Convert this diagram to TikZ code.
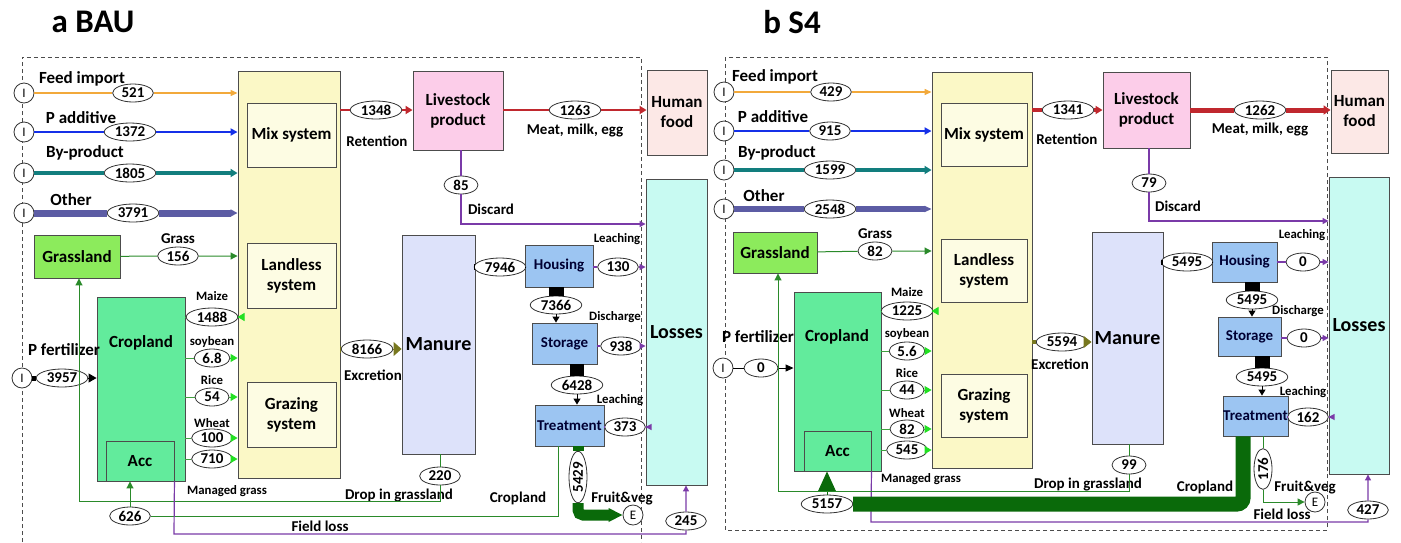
\documentclass[tikz,border=0pt]{standalone}
\usepackage{fontspec}
\setmainfont{Carlito}
\usetikzlibrary{shapes.geometric,arrows.meta}

\newcommand{\ttlfont}{\fontsize{33}{36}\selectfont\bfseries}
\newcommand{\boxfont}{\fontsize{17}{20}\selectfont\bfseries}
\newcommand{\bigfont}{\fontsize{20}{22}\selectfont\bfseries}
\newcommand{\midfont}{\fontsize{15}{17}\selectfont\bfseries}
\newcommand{\smlfont}{\fontsize{12.8}{14}\selectfont\bfseries}
\newcommand{\valfont}{\fontsize{15}{16}\selectfont\bfseries}
\newcommand{\srcfont}{\fontsize{13}{14}\selectfont}

\definecolor{ylwbox}{HTML}{FBF8C6}
\definecolor{ylwin}{HTML}{FDFCE3}
\definecolor{grassbox}{HTML}{8CEB5C}
\definecolor{cropbox}{HTML}{62EB9C}
\definecolor{livbox}{HTML}{FCCDE9}
\definecolor{humbox}{HTML}{FCE8E6}
\definecolor{lossbox}{HTML}{C8FAF2}
\definecolor{manbox}{HTML}{DDE2FA}
\definecolor{procbox}{HTML}{9CC5F2}
\definecolor{feedln}{HTML}{F2A93B}
\definecolor{addln}{HTML}{1530E8}
\definecolor{byln}{HTML}{127E7E}
\definecolor{othln}{HTML}{5C5CA4}
\definecolor{grassln}{HTML}{2A8A2A}
\definecolor{cropln}{HTML}{3EA03E}
\definecolor{croptip}{HTML}{22E022}
\definecolor{redln}{HTML}{C0282E}
\definecolor{purln}{HTML}{7A3AA8}
\definecolor{olvln}{HTML}{77771E}
\definecolor{dkgrn}{HTML}{0A6A0A}

\begin{document}
\begin{tikzpicture}[x=1pt, y=-1pt]
	\tikzstyle{every node}=[inner sep=1pt, align=center, font=\midfont]
	\tikzstyle{box}=[draw=black!70, line width=0.9pt, inner sep=0pt, font=\boxfont]
	\tikzstyle{proc}=[box, fill=procbox, font=\midfont, text=blue!20!black]
	\tikzstyle{val}=[ellipse, draw=black!80, line width=0.8pt, fill=white, inner xsep=3pt, inner ysep=0pt, minimum width=34pt, minimum height=18pt, font=\valfont]
	\tikzstyle{src}=[circle, draw=black!80, line width=0.8pt, fill=white, minimum size=20pt, inner sep=0pt, font=\srcfont]
	\tikzstyle{srclbl}=[font=\boxfont]
	\tikzstyle{sml}=[font=\smlfont]
	\tikzstyle{panelframe}=[draw=black!70, line width=1pt, dash pattern=on 4pt off 3pt]
	\tikzstyle{tip}=[-{Triangle[length=7pt,width=7pt]}]
	\tikzstyle{ptip}=[-{Triangle[length=6pt,width=6pt]}]
	\tikzstyle{ctip}=[-{Triangle[length=7pt,width=8pt,color=croptip]}]
	\useasboundingbox (0,0) rectangle (1401,542);

	\node (tA) at (93,22) [font=\ttlfont] {a BAU};
	\node (tB) at (792,22) [font=\ttlfont] {b S4};
	\draw[panelframe] (22,542) -- (22,57) -- (641,57) -- (641,542);
	\draw[panelframe] (725,57) rectangle (1327,530);

	\node (ybA) [box, fill=ylwbox, minimum width=102pt, minimum height=407pt] at (289,274.5) {};
	\node (mixA) [box, fill=ylwin, minimum width=89pt, minimum height=64pt] at (291.5,135) {Mix system};
	\node (landA) [box, fill=ylwin, minimum width=89pt, minimum height=65pt] at (291.5,275.5) {Landless\\system};
	\node (grazA) [box, fill=ylwin, minimum width=89pt, minimum height=65pt] at (291.5,414.5) {Grazing\\system};
	\node (grassA) [box, fill=grassbox, minimum width=86pt, minimum height=43pt] at (77,256.5) {Grassland};
	\node (cropA) [box, fill=cropbox, minimum width=88pt, minimum height=184pt] at (141,389) {};
	\node (cropAt) at (141,343) [font=\boxfont] {Cropland};
	\node (accA) [box, fill=cropbox, minimum width=68pt, minimum height=40pt] at (140,461) {Acc};
	\node (livA) [box, fill=livbox, minimum width=90pt, minimum height=79pt] at (458,110.5) {Livestock\\product};
	\node (humA) [box, fill=humbox, minimum width=60pt, minimum height=85pt] at (677,112.5) {Human\\food};
	\node (lossA) [box, fill=lossbox, minimum width=61pt, minimum height=306pt, font=\bigfont] at (676.5,332) {Losses};
	\node (manA) [box, fill=manbox, minimum width=73pt, minimum height=219pt, font=\bigfont] at (438.5,344.5) {Manure};
	\node (housA) [proc, minimum width=68pt, minimum height=42pt] at (559,266) {Housing};
	\node (storA) [proc, minimum width=65pt, minimum height=41pt] at (564.5,343.5) {Storage};
	\node (treatA) [proc, minimum width=69pt, minimum height=41pt] at (569.5,425.5) {Treatment};

	\node (iA1) [src] at (24,93) {I};
	\node (iA2) [src] at (24,132) {I};
	\node (iA3) [src] at (24,173) {I};
	\node (iA4) [src] at (24,213) {I};
	\node (iA5) [src] at (22,378) {I};
	\node (eA) [src] at (633,515) {E};
	\node (vA1) [val] at (133,93) {521};
	\node (vA2) [val] at (130,132) {1372};
	\node (vA3) [val] at (130,173) {1805};
	\node (vA4) [val] at (133,213) {3791};
	\node (vA5) [val] at (178,256) {156};
	\node (vA6) [val] at (62,378) {3957};
	\node (vA7) [val] at (212,317) {1488};
	\node (vA8) [val] at (212,358) {6.8};
	\node (vA9) [val] at (212,397) {54};
	\node (vA10) [val] at (212,438) {100};
	\node (vA11) [val] at (212,459) {710};
	\node (vA12) [val] at (376,110) {1348};
	\node (vA13) [val] at (575,110) {1263};
	\node (vA14) [val] at (461,185) {85};
	\node (vA15) [val] at (367,349) {8166};
	\node (vA16) [val] at (500,267) {7946};
	\node (vA17) [val] at (618,267) {130};
	\node (vA18) [val] at (556,305) {7366};
	\node (vA19) [val] at (621,346) {938};
	\node (vA20) [val] at (577,385) {6428};
	\node (vA21) [val] at (625,427) {373};
	\node (vA22) [val, rotate=90] at (578,477) {5429};
	\node (vA23) [val] at (130,516) {626};
	\node (vA24) [val] at (440,476) {220};
	\node (vA25) [val] at (686,521) {245};

	\node (lA1) [srclbl] at (82,79) {Feed import};
	\node (lA2) [srclbl] at (81,118) {P additive};
	\node (lA3) [srclbl] at (85,153) {By-product};
	\node (lA4) [srclbl] at (71,200) {Other};
	\node (lA5) [srclbl] at (64,350) {P fertilizer};
	\node (lA6) at (178,239) {Grass};
	\node (lA7) [sml] at (212,296) {Maize};
	\node (lA8) [sml] at (212,342) {soybean};
	\node (lA9) [sml] at (212,380) {Rice};
	\node (lA10) [sml] at (212,423) {Wheat};
	\node (lA11) [sml] at (227,491) {Managed grass};
	\node (lA12) at (377,141) {Retention};
	\node (lA13) at (575,131) {Meat, milk, egg};
	\node (lA14) at (491,209) {Discard};
	\node (lA15) at (373,375) {Excretion};
	\node (lA16) [sml] at (617,239) {Leaching};
	\node (lA17) [sml] at (615,317) {Discharge};
	\node (lA18) [sml] at (620,400) {Leaching};
	\node (lA19) at (622,498) {Fruit\&veg};
	\node (lA20) at (518,498) {Cropland};
	\node (lA21) at (399,495) {Drop in grassland};
	\node (lA22) at (320,526) {Field loss};

	\coordinate (dA) at (461,224);
	\coordinate (fA) at (578,515);
	\coordinate (cA) at (558,516);
	\coordinate (gdA) at (440,501);
	\coordinate (gcA) at (79,501);
	\coordinate (flA) at (174,534);

	\draw[feedln, line width=1.3pt, -{Triangle[length=7pt,width=6pt]}] (iA1) -- (vA1) -- (vA1 -| ybA.west);
	\draw[addln, line width=2.2pt, tip] (iA2) -- (vA2) -- (vA2 -| ybA.west);
	\draw[byln, line width=3.5pt, -{Triangle[length=7pt,width=8pt]}] (iA3) -- (vA3) -- (vA3 -| ybA.west);
	\draw[othln, line width=7pt, -{Triangle[length=7pt,width=7pt]}] (iA4) -- (vA4) -- (vA4 -| ybA.west);
	\draw[grassln, line width=1pt, tip] (grassA) -- (vA5) -- (vA5 -| ybA.west);
	\draw[black, line width=5pt] (iA5) -- (vA6);
	\draw[black, line width=1pt, -{Triangle[length=8pt,width=9pt]}] (vA6) -- (vA6 -| cropA.west);
	\draw[cropln, line width=1pt, ctip] (vA7 -| cropA.east) -- (vA7) -- (vA7 -| ybA.west);
	\draw[cropln, line width=1pt, ctip] (vA8 -| cropA.east) -- (vA8) -- (vA8 -| ybA.west);
	\draw[cropln, line width=1pt, ctip] (vA9 -| cropA.east) -- (vA9) -- (vA9 -| ybA.west);
	\draw[cropln, line width=1pt, ctip] (vA10 -| cropA.east) -- (vA10) -- (vA10 -| ybA.west);
	\draw[cropln, line width=1pt, ctip] (vA11 -| cropA.east) -- (vA11) -- (vA11 -| ybA.west);
	\draw[redln, line width=2.5pt, -{Triangle[length=7pt,width=8pt]}] (vA12 -| ybA.east) -- (vA12) -- (vA12 -| livA.west);
	\draw[redln, line width=2.5pt, -{Triangle[length=7pt,width=8pt]}] (vA13 -| livA.east) -- (vA13) -- (vA13 -| humA.west);
	\draw[purln, line width=1.2pt, ptip] (vA14 |- livA.south) -- (vA14) -- (dA) -- (dA -| lossA.west);
	\draw[olvln, line width=7pt] (vA15 -| ybA.east) -- (vA15);
	\draw[olvln, line width=1pt, -{Triangle[length=8pt,width=14pt]}] (vA15) -- (vA15 -| manA.west);
	\draw[black, line width=6pt] (vA16 -| manA.east) -- (vA16);
	\draw[black, line width=1pt] (vA16) -- (vA16 -| housA.west);
	\draw[purln, line width=1.2pt, ptip] (vA17 -| housA.east) -- (vA17) -- (vA17 -| lossA.west);
	\draw[black, line width=15pt] (vA18 |- housA.south) -- (vA18);
	\draw[black, line width=1pt, -{Triangle[length=6pt,width=7pt]}] (vA18) -- (vA18 |- storA.north);
	\draw[purln, line width=1.2pt, ptip] (vA19 -| storA.east) -- (vA19) -- (vA19 -| lossA.west);
	\draw[black, line width=14pt] (vA20 |- storA.south) -- (vA20);
	\draw[black, line width=1pt, -{Triangle[length=6pt,width=7pt]}] (vA20) -- (vA20 |- treatA.north);
	\draw[purln, line width=1.2pt, ptip] (vA21 -| treatA.east) -- (vA21) -- (vA21 -| lossA.west);
	\draw[dkgrn, line width=11pt] (vA22 |- treatA.south) -- (vA22);
	\draw[dkgrn, line width=11pt, rounded corners=5pt, -{Triangle[length=14pt,width=13pt]}] (vA22) -- (fA) -- (eA);
	\draw[grassln, line width=1pt, tip] (cA |- treatA.south) -- (cA) -- (vA23) -- (vA23 |- accA.south);
	\draw[grassln, line width=1pt, tip] (vA24 |- manA.south) -- (vA24) -- (gdA) -- (gcA) -- (gcA |- grassA.south);
	\draw[purln, line width=1.2pt, ptip] (accA.south east) -- (flA) -- (flA -| vA25) -- (vA25) -- (vA25 |- lossA.south);

	\node (ybB) [box, fill=ylwbox, minimum width=100pt, minimum height=396pt] at (982,270) {};
	\node (mixB) [box, fill=ylwin, minimum width=86pt, minimum height=63pt] at (984,134.5) {Mix system};
	\node (landB) [box, fill=ylwin, minimum width=86pt, minimum height=63pt] at (984,270.5) {Landless\\system};
	\node (grazB) [box, fill=ylwin, minimum width=86pt, minimum height=63pt] at (984,405.5) {Grazing\\system};
	\node (grassB) [box, fill=grassbox, minimum width=84pt, minimum height=41pt] at (775,252.5) {Grassland};
	\node (cropB) [box, fill=cropbox, minimum width=87pt, minimum height=179pt] at (837.5,381.5) {};
	\node (cropBt) at (837,337) [font=\boxfont] {Cropland};
	\node (accB) [box, fill=cropbox, minimum width=67pt, minimum height=40pt] at (837.5,451) {Acc};
	\node (livB) [box, fill=livbox, minimum width=87pt, minimum height=76pt] at (1146.5,110) {Livestock\\product};
	\node (humB) [box, fill=humbox, minimum width=57pt, minimum height=83pt] at (1359.5,111.5) {Human\\food};
	\node (lossB) [box, fill=lossbox, minimum width=60pt, minimum height=297pt, font=\bigfont] at (1359,325.5) {Losses};
	\node (manB) [box, fill=manbox, minimum width=71pt, minimum height=212pt, font=\bigfont] at (1127.5,338) {Manure};
	\node (housB) [proc, minimum width=65pt, minimum height=40pt] at (1244.5,262) {Housing};
	\node (storB) [proc, minimum width=63pt, minimum height=39pt] at (1249.5,336.5) {Storage};
	\node (treatB) [proc, minimum width=65pt, minimum height=40pt] at (1255.5,416) {Treatment};

	\node (iB1) [src] at (724,92) {I};
	\node (iB2) [src] at (724,131) {I};
	\node (iB3) [src] at (724,170) {I};
	\node (iB4) [src] at (724,209) {I};
	\node (iB5) [src] at (723,368) {I};
	\node (eB) [src] at (1315,502) {E};
	\node (vB1) [val] at (831,92) {429};
	\node (vB2) [val] at (830,131) {915};
	\node (vB3) [val] at (830,170) {1599};
	\node (vB4) [val] at (830,209) {2548};
	\node (vB5) [val] at (875,251) {82};
	\node (vB6) [val] at (761,368) {0};
	\node (vB7) [val] at (907,311) {1225};
	\node (vB8) [val] at (907,351) {5.6};
	\node (vB9) [val] at (907,390) {44};
	\node (vB10) [val] at (907,429) {82};
	\node (vB11) [val] at (907,450) {545};
	\node (vB12) [val] at (1068,110) {1341};
	\node (vB13) [val] at (1260,110) {1262};
	\node (vB14) [val] at (1149,183) {79};
	\node (vB15) [val] at (1062,342) {5594};
	\node (vB16) [val] at (1187,262) {5495};
	\node (vB17) [val] at (1303,262) {0};
	\node (vB18) [val] at (1252,300) {5495};
	\node (vB19) [val] at (1304,338) {0};
	\node (vB20) [val] at (1262,377) {5495};
	\node (vB21) [val] at (1308,417) {162};
	\node (vB22) [val, rotate=90] at (1263,469) {176};
	\node (vB23) [val] at (827,504) {5157};
	\node (vB24) [val] at (1129,465) {99};
	\node (vB25) [val] at (1368,510) {427};

	\node (lB1) [srclbl] at (775,77) {Feed import};
	\node (lB2) [srclbl] at (773,117) {P additive};
	\node (lB3) [srclbl] at (777,153) {By-product};
	\node (lB4) [srclbl] at (764,196) {Other};
	\node (lB5) [srclbl] at (758,337) {P fertilizer};
	\node (lB6) at (875,234) {Grass};
	\node (lB7) [sml] at (907,292) {Maize};
	\node (lB8) [sml] at (907,334) {soybean};
	\node (lB9) [sml] at (907,373) {Rice};
	\node (lB10) [sml] at (907,413) {Wheat};
	\node (lB11) [sml] at (921,479) {Managed grass};
	\node (lB12) at (1067,139) {Retention};
	\node (lB13) at (1260,130) {Meat, milk, egg};
	\node (lB14) at (1178,206) {Discard};
	\node (lB15) at (1060,364) {Excretion};
	\node (lB16) [sml] at (1302,235) {Leaching};
	\node (lB17) [sml] at (1298,311) {Discharge};
	\node (lB18) [sml] at (1303,392) {Leaching};
	\node (lB19) at (1305,487) {Fruit\&veg};
	\node (lB20) at (1205,487) {Cropland};
	\node (lB21) at (1088,484) {Drop in grassland};
	\node (lB22) at (1282,514) {Field loss};

	\coordinate (dB) at (1149,221);
	\coordinate (fB) at (1263,502);
	\coordinate (cB) at (1243,504);
	\coordinate (gdB) at (1129,491);
	\coordinate (gcB) at (778,491);
	\coordinate (flB) at (871,522);

	\draw[feedln, line width=1.3pt, -{Triangle[length=7pt,width=6pt]}] (iB1) -- (vB1) -- (vB1 -| ybB.west);
	\draw[addln, line width=2.2pt, tip] (iB2) -- (vB2) -- (vB2 -| ybB.west);
	\draw[byln, line width=3.5pt, -{Triangle[length=7pt,width=8pt]}] (iB3) -- (vB3) -- (vB3 -| ybB.west);
	\draw[othln, line width=6pt, -{Triangle[length=7pt,width=6pt]}] (iB4) -- (vB4) -- (vB4 -| ybB.west);
	\draw[grassln, line width=1pt, tip] (grassB) -- (vB5) -- (vB5 -| ybB.west);
	\draw[black, line width=1pt, -{Triangle[length=8pt,width=7pt]}] (iB5) -- (vB6) -- (vB6 -| cropB.west);
	\draw[cropln, line width=1pt, ctip] (vB7 -| cropB.east) -- (vB7) -- (vB7 -| ybB.west);
	\draw[cropln, line width=1pt, ctip] (vB8 -| cropB.east) -- (vB8) -- (vB8 -| ybB.west);
	\draw[cropln, line width=1pt, ctip] (vB9 -| cropB.east) -- (vB9) -- (vB9 -| ybB.west);
	\draw[cropln, line width=1pt, ctip] (vB10 -| cropB.east) -- (vB10) -- (vB10 -| ybB.west);
	\draw[cropln, line width=1pt, ctip] (vB11 -| cropB.east) -- (vB11) -- (vB11 -| ybB.west);
	\draw[redln, line width=4pt, -{Triangle[length=7pt,width=8pt]}] (vB12 -| ybB.east) -- (vB12) -- (vB12 -| livB.west);
	\draw[redln, line width=5pt, -{Triangle[length=7pt,width=9pt]}] (vB13 -| livB.east) -- (vB13) -- (vB13 -| humB.west);
	\draw[purln, line width=1.2pt, ptip] (vB14 |- livB.south) -- (vB14) -- (dB) -- (dB -| lossB.west);
	\draw[olvln, line width=4pt] (vB15 -| ybB.east) -- (vB15);
	\draw[olvln, line width=1pt, -{Triangle[length=8pt,width=12pt]}] (vB15) -- (vB15 -| manB.west);
	\draw[black, line width=5pt] (vB16 -| manB.east) -- (vB16);
	\draw[black, line width=1pt] (vB16) -- (vB16 -| housB.west);
	\draw[purln, line width=1.2pt, ptip] (vB17 -| housB.east) -- (vB17) -- (vB17 -| lossB.west);
	\draw[black, line width=15pt] (vB18 |- housB.south) -- (vB18);
	\draw[black, line width=1pt, -{Triangle[length=6pt,width=7pt]}] (vB18) -- (vB18 |- storB.north);
	\draw[purln, line width=1.2pt, ptip] (vB19 -| storB.east) -- (vB19) -- (vB19 -| lossB.west);
	\draw[black, line width=15pt] (vB20 |- storB.south) -- (vB20);
	\draw[black, line width=1pt, -{Triangle[length=6pt,width=7pt]}] (vB20) -- (vB20 |- treatB.north);
	\draw[purln, line width=1.2pt, ptip] (vB21 -| treatB.east) -- (vB21) -- (vB21 -| lossB.west);
	\draw[grassln, line width=1pt, tip] (vB22 |- treatB.south) -- (vB22) -- (fB) -- (eB);
	\draw[purln, line width=1.2pt, ptip] (accB.south east) -- (flB) -- (flB -| vB25) -- (vB25) -- (vB25 |- lossB.south);
	\draw[dkgrn, line width=15pt, rounded corners=6pt] (cB |- treatB.south) -- (cB) -- (vB23);
	\draw[dkgrn, line width=1pt, -{Triangle[length=20pt,width=18pt]}] (vB23) -- (vB23 |- accB.south);
	\draw[grassln, line width=1pt, tip] (vB24 |- manB.south) -- (vB24) -- (gdB) -- (gcB) -- (gcB |- grassB.south);
\end{tikzpicture}
\end{document}
